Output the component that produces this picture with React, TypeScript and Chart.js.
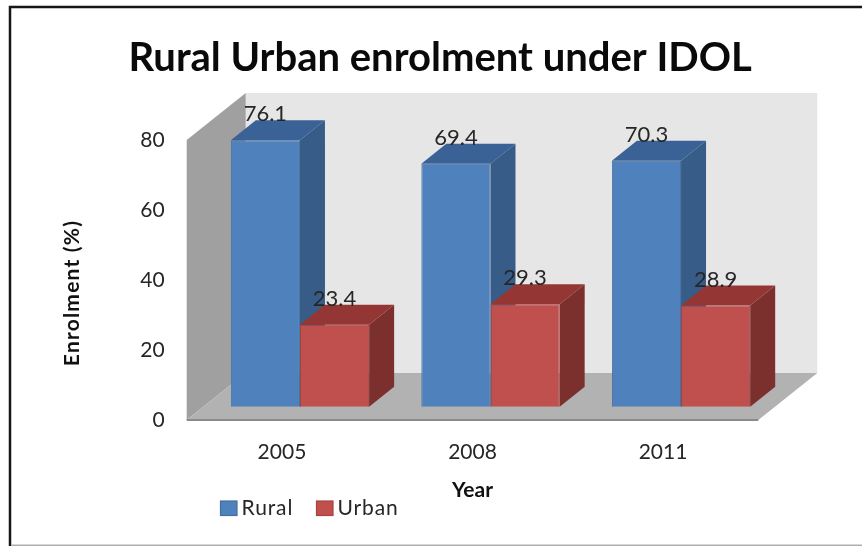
import React, { useEffect, useRef } from "react";
import { Chart, registerables } from "chart.js";

Chart.register(...registerables);

const categories = ["2005", "2008", "2011"];
const ruralValues = [76.1, 69.4, 70.3];
const urbanValues = [23.4, 29.3, 28.9];
const yTickStep = 20;
const yMax = 80;

const FONT = "Lato, Carlito, sans-serif";
const INK = "#262626";

// Oblique projection used for the box: room depth, offset of the bars inside it, and column depth.
const ROOM = { dx: 59, dy: -47 };
const SHIFT = { dx: 18, dy: -13.3 };
const DEPTH = { dx: 25, dy: -20 };

const FACES = [
  { side: "#375c88", top: "#3a6296" },
  { side: "#7c302e", top: "#943634" },
];

type Pt = [number, number];

function poly(ctx: CanvasRenderingContext2D, pts: Pt[], fill: string) {
  ctx.beginPath();
  pts.forEach(([x, y], i) => (i ? ctx.lineTo(x, y) : ctx.moveTo(x, y)));
  ctx.closePath();
  ctx.fillStyle = fill;
  ctx.fill();
}

// Frame, walls and floor behind the columns.
const roomPlugin = {
  id: "room",
  beforeDatasetsDraw(chart: any) {
    const { ctx, chartArea: a } = chart;
    const { dx, dy } = ROOM;
    ctx.save();
    ctx.strokeStyle = "#161616";
    ctx.lineWidth = 2.5;
    ctx.beginPath();
    ctx.moveTo(10, 546);
    ctx.lineTo(10, 7);
    ctx.lineTo(862, 7);
    ctx.stroke();
    ctx.strokeStyle = "#b0b0b0";
    ctx.lineWidth = 1.5;
    ctx.beginPath();
    ctx.moveTo(11, 545.2);
    ctx.lineTo(862, 545.2);
    ctx.stroke();

    poly(ctx, [[a.left + dx, a.top + dy], [a.right + dx, a.top + dy], [a.right + dx, a.bottom + dy], [a.left + dx, a.bottom + dy]], "#e6e6e6");
    poly(ctx, [[a.left, a.top], [a.left + dx, a.top + dy], [a.left + dx, a.bottom + dy], [a.left, a.bottom]], "#a0a0a0");
    poly(ctx, [[a.left, a.bottom], [a.right, a.bottom], [a.right + dx, a.bottom + dy], [a.left + dx, a.bottom + dy]], "#b2b2b2");
    ctx.strokeStyle = "#8a8a8a";
    ctx.lineWidth = 2;
    ctx.beginPath();
    ctx.moveTo(a.left, a.bottom);
    ctx.lineTo(a.right, a.bottom);
    ctx.stroke();
    ctx.restore();
  },
};

// Side and top faces of each column, plus the shift of the front faces into the room.
const columnPlugin = {
  id: "columns",
  beforeDatasetsDraw(chart: any) {
    const { ctx } = chart;
    ctx.save();
    ctx.translate(SHIFT.dx, SHIFT.dy);
    const { dx, dy } = DEPTH;
    chart.data.datasets.forEach((_: any, di: number) => {
      chart.getDatasetMeta(di).data.forEach((bar: any) => {
        const l = bar.x - bar.width / 2;
        const r = bar.x + bar.width / 2;
        poly(ctx, [[r, bar.y], [r + dx, bar.y + dy], [r + dx, bar.base + dy], [r, bar.base]], FACES[di].side);
        poly(ctx, [[l, bar.y], [l + dx, bar.y + dy], [r + dx, bar.y + dy], [r, bar.y]], FACES[di].top);
      });
    });
  },
  afterDatasetsDraw(chart: any) {
    chart.ctx.restore();
  },
};

// Value labels above the columns, the vertical axis title and the legend row.
const labelPlugin = {
  id: "labels",
  afterDraw(chart: any) {
    const { ctx } = chart;
    ctx.save();
    ctx.fillStyle = INK;
    ctx.font = `22px ${FONT}`;
    ctx.textAlign = "center";
    ctx.textBaseline = "middle";
    chart.data.datasets.forEach((ds: any, di: number) => {
      chart.getDatasetMeta(di).data.forEach((bar: any, i: number) => {
        ctx.fillText(String(ds.data[i]), bar.x + SHIFT.dx, bar.y + SHIFT.dy - 26);
      });
    });

    ctx.save();
    ctx.fillStyle = "#111111";
    ctx.font = `bold 21px ${FONT}`;
    ctx.letterSpacing = "1.2px";
    ctx.translate(72, 293);
    ctx.rotate(-Math.PI / 2);
    ctx.fillText("Enrolment (%)", 0, 0);
    ctx.restore();

    const legendX = [220.5, 316.5];
    ctx.textAlign = "left";
    ctx.font = `21px ${FONT}`;
    ctx.letterSpacing = "0.9px";
    chart.data.datasets.forEach((ds: any, di: number) => {
      ctx.fillStyle = ds.backgroundColor;
      ctx.strokeStyle = ds.borderColor;
      ctx.lineWidth = 1.2;
      ctx.fillRect(legendX[di], 501, 16.5, 14.5);
      ctx.strokeRect(legendX[di], 501, 16.5, 14.5);
      ctx.fillStyle = INK;
      ctx.fillText(ds.label, legendX[di] + 21, 508.5);
    });
    ctx.restore();
  },
};

// Shifts the title block to the right of the page centre.
const placementPlugin = {
  id: "placement",
  afterLayout(chart: any) {
    chart.titleBlock.left += 11;
    chart.titleBlock.right += 11;
  },
};

export default function App() {
  const ref = useRef<HTMLCanvasElement | null>(null);

  useEffect(() => {
    const chart = new Chart(ref.current as HTMLCanvasElement, {
      type: "bar",
      data: {
        labels: categories,
        datasets: [
          { label: "Rural", data: ruralValues, backgroundColor: "#4f81bd", borderColor: "#41709f", borderWidth: 1, clip: false },
          { label: "Urban", data: urbanValues, backgroundColor: "#c0504d", borderColor: "#a84340", borderWidth: 1, clip: false },
        ],
      },
      plugins: [roomPlugin, columnPlugin, labelPlugin, placementPlugin],
      options: {
        animation: false,
        responsive: false,
        layout: { padding: { left: 100, right: 103.7, top: 0, bottom: 0 } },
        datasets: { bar: { categoryPercentage: 0.726, barPercentage: 1 } },
        plugins: {
          tooltip: { enabled: false },
          legend: { display: false },
          title: {
            display: true,
            text: "Rural Urban enrolment under IDOL",
            color: "#0a0a0a",
            font: { family: FONT, size: 40, weight: "bold" },
            padding: { top: 34, bottom: 58 },
          },
        },
        scales: {
          x: {
            grid: { display: false, drawTicks: false },
            border: { display: false },
            ticks: { color: INK, padding: 20, font: { family: FONT, size: 21 } },
            title: { display: true, text: "Year", color: "#111111", font: { family: FONT, size: 21, weight: "bold" }, padding: { top: 6, bottom: 43 } },
            afterFit(s: any) {
              s.height = 126;
            },
          },
          y: {
            min: 0,
            max: yMax,
            grid: { display: false, drawTicks: false },
            border: { display: false },
            ticks: { stepSize: yTickStep, color: INK, padding: 22, font: { family: FONT, size: 21 } },
            afterFit(s: any) {
              s.width = 86.7;
            },
          },
        },
      } as any,
    });
    return () => chart.destroy();
  }, []);

  return (
    <div style={{ position: "absolute", left: 0, top: 0, width: 862, height: 546, background: "#ffffff" }}>
      <canvas ref={ref} width={862} height={546} style={{ display: "block" }} />
    </div>
  );
}
